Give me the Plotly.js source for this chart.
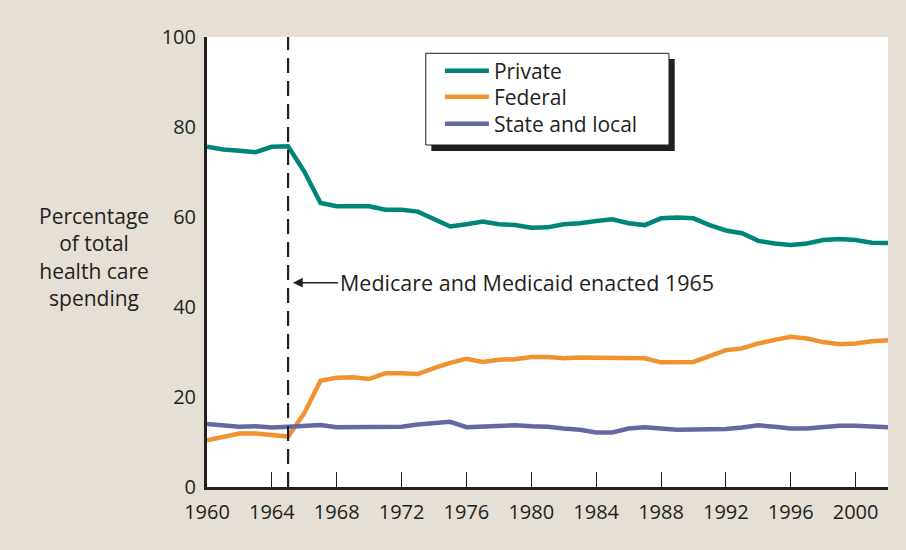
<!DOCTYPE html>
<html>
<head>
<meta charset="utf-8">
<script src="https://cdn.plot.ly/plotly-3.0.1.min.js"></script>
<style>html,body{margin:0;padding:0;background:#E5DFD5;}#chart{width:906px;height:550px;}</style>
</head>
<body>
<div id="chart"></div>
<script>
var years = [1960,1961,1962,1963,1964,1965,1966,1967,1968,1969,1970,1971,1972,1973,1974,1975,1976,1977,1978,1979,1980,1981,1982,1983,1984,1985,1986,1987,1988,1989,1990,1991,1992,1993,1994,1995,1996,1997,1998,1999,2000,2001,2002];
var privateShare = [75.6,75.0,74.7,74.4,75.6,75.7,70.1,63.1,62.4,62.4,62.4,61.6,61.6,61.2,59.6,57.9,58.4,59.0,58.4,58.2,57.6,57.7,58.4,58.6,59.1,59.5,58.6,58.2,59.7,59.9,59.7,58.2,57.0,56.4,54.7,54.1,53.8,54.1,54.9,55.1,54.9,54.3,54.2];
var federalShare = [10.4,11.2,11.9,11.9,11.6,11.2,16.4,23.6,24.3,24.4,24.0,25.3,25.3,25.1,26.4,27.6,28.5,27.8,28.3,28.4,28.9,28.9,28.6,28.8,28.7,28.6,28.7,28.6,27.7,27.8,27.8,29.1,30.4,30.8,31.9,32.7,33.4,33.0,32.2,31.7,31.9,32.4,32.6];
var stateLocalShare = [14.0,13.8,13.4,13.5,13.2,13.4,13.5,13.8,13.3,13.3,13.5,13.3,13.4,13.9,14.1,14.5,13.3,13.5,13.5,13.7,13.5,13.4,13.0,12.7,12.1,12.1,13.0,13.3,13.0,12.7,12.8,12.8,12.9,13.2,13.7,13.4,13.0,13.0,13.3,13.6,13.6,13.4,13.3];
var seriesNames = ["Private","Federal","State and local"];
var xTicks = [1960,1964,1968,1972,1976,1980,1984,1988,1992,1996,2000];
var yTicks = [0,20,40,60,80,100];
var eventYear = 1965;
var eventLabel = "Medicare and Medicaid enacted 1965";
var yTitle = "Percentage<br>of total<br>health care<br>spending";

var dark = "#231f20";
var font = "Open Sans, sans-serif";
var colors = ["#00857A","#F0922E","#6668A1"];
var vals = [privateShare, federalShare, stateLocalShare];
var legendIds = ["legend","legend2","legend3"];
var legendRowsY = [0.9244, 0.8667, 0.8067];
var traces = vals.map(function(v,i){
  return {x: years, y: v, type: "scatter", mode: "lines", name: seriesNames[i],
    legend: legendIds[i], line: {color: colors[i], width: 4.5}, hoverinfo: "skip"};
});

function legendCfg(y){
  return {x: 0.342, y: y, xanchor: "left", yanchor: "middle", bgcolor: "rgba(0,0,0,0)",
    borderwidth: 0, font: {family: font, size: 21, color: dark}, itemwidth: 44};
}

var layout = {
  width: 906, height: 550,
  paper_bgcolor: "#E5DFD5", plot_bgcolor: "#ffffff",
  margin: {l: 207, r: 18, t: 37, b: 63, pad: 0},
  font: {family: font, size: 21, color: dark},
  showlegend: true,
  legend: legendCfg(legendRowsY[0]),
  legend2: legendCfg(legendRowsY[1]),
  legend3: legendCfg(legendRowsY[2]),
  xaxis: {range: [1960, 2002], tickvals: xTicks, ticks: "inside", ticklen: 15, tickwidth: 1,
    tickcolor: dark, showline: true, linewidth: 3, linecolor: dark, showgrid: false,
    zeroline: false, ticklabelstandoff: 5, tickfont: {family: font, size: 20, color: dark}},
  yaxis: {range: [0, 100], tickvals: yTicks, ticks: "", showline: true, linewidth: 3,
    linecolor: dark, showgrid: false, zeroline: false, ticklabelstandoff: 4,
    tickfont: {family: font, size: 20, color: dark}},
  shapes: [
    {type: "rect", xref: "paper", yref: "paper", x0: 0.3294, x1: 0.6868, y0: 0.7467, y1: 0.951,
      fillcolor: dark, line: {width: 0}, layer: "above"},
    {type: "rect", xref: "paper", yref: "paper", x0: 0.3213, x1: 0.6784, y0: 0.7600, y1: 0.9638,
      fillcolor: "#ffffff", line: {width: 1, color: dark}, layer: "above"},
    {type: "line", xref: "x", yref: "y", x0: eventYear, x1: eventYear, y0: 0, y1: 100,
      line: {color: dark, width: 2.2, dash: "15px,8px"}, layer: "above"}
  ],
  annotations: [
    {xref: "paper", yref: "paper", x: -0.1652, y: 0.511, xanchor: "center", yanchor: "middle",
      align: "center", text: yTitle, showarrow: false, font: {family: font, size: 21, color: dark}},
    {xref: "x", yref: "y", x: eventYear + 0.3, y: 45.4, ax: 45, ay: 0, xanchor: "left", yanchor: "middle",
      text: eventLabel, showarrow: true, arrowhead: 2, arrowsize: 1.3, arrowwidth: 1.5, arrowcolor: dark,
      font: {family: font, size: 21.5, color: dark}}
  ]
};
Plotly.newPlot("chart", traces, layout, {displayModeBar: false, staticPlot: true});
</script>
</body>
</html>
